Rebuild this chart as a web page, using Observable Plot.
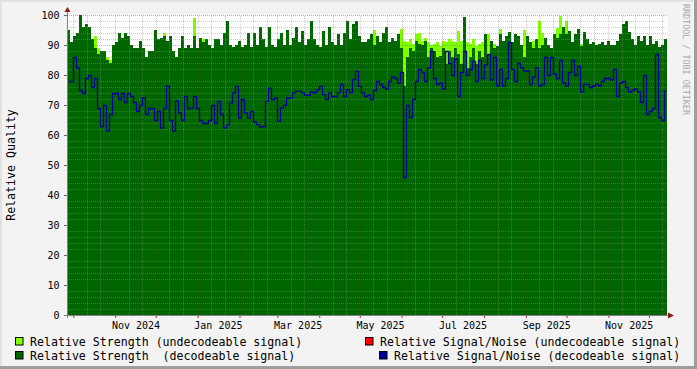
<!DOCTYPE html>
<html><head><meta charset="utf-8">
<script src="https://cdn.jsdelivr.net/npm/d3@7"></script>
<script src="https://cdn.jsdelivr.net/npm/@observablehq/plot@0.6"></script>
<style>
html,body{margin:0;padding:0;background:#f3f3f3;overflow:hidden;}
#chart{width:697px;height:369px;}
</style></head><body><div id="chart"></div>
<script>
const _ = null;
// Tick labels (bottom axis)
const monthLabels = ["Nov 2024","Jan 2025","Mar 2025","May 2025","Jul 2025","Sep 2025","Nov 2025"];
const yTicks = [0,10,20,30,40,50,60,70,80,90,100];

// Relative Strength (decodeable signal)
const strengthDecodeable = [
 95,91,93,94,100,96,97,96,92,89, 87,88,88,85,84,90,91,94,92.5,94, 93,90,89,89,91.5,89,86,88,88,95, 92,92.5,93,91.5,93,88,86,89,93,89, 90,89,93,89,92.5,91,92,90,89,92,
 92,90,94,98,90,89.5,90,91.5,89.5,90, 94,89.5,94,90,96,92,89.5,96,90,89.5, 92,94,90,95,90,92.5,96,91,94.8,90, 92,98,92,90,89.5,94.8,90,96,91,90, 93.6,90,94,98,92,97,98,93,91,91,
 92,93.6,90,93,91,94,96,91,92.5,91.5, 93.6,89,76.4,85.9,89,88,91.5,90.3,90,91.5, 85.9,89,88,85.9,86.4,89,83.6,88,85.9,89, 87,83.6,99.2,82.5,85.9,89,83.6,88,85.9,93.6, 87,91.5,89,89.7,93.6,91.5,93,94.2,90.9,93.6,
 93,90,86,93,91,89,92,89,90,92.5, 90,89,93.6,92.5,93.6,96,93.6,94.8,91,93.6, 95.3,89.7,94.2,92,90.3,91,90,90.3,90.9,90, 91.5,90,90,91.5,93.6,97,98,94.2,92,90, 93,91.5,93,90,93,90.3,91.5,89.5,90,92
];
// Relative Strength (undecodeable signal)
const strengthUndecodeable = [
 _,_,_,_,_,_,_,_,_,93, 89,_,_,86,85,_,_,_,_,_, _,_,_,_,_,_,_,_,_,_, _,_,94,_,_,_,_,_,_,_, _,_,99,_,_,92,_,_,_,_,
 _,_,_,_,_,_,_,_,_,_, _,_,_,_,_,_,_,_,_,_, _,_,_,_,_,_,_,_,_,_, _,_,_,_,_,_,_,_,_,_, _,_,_,_,_,_,_,_,_,_,
 _,_,95,_,_,_,_,_,_,_, _,95.3,91.5,90.9,92,90.3,93.6,94,91.5,92.5, 90.9,90,90.3,90.9,89.7,91.5,90.9,92,91.5,90.9, 94.8,91.5,_,90.9,90.3,92,89.7,90.3,90.9,_, 93.6,_,90.3,_,95.3,_,_,_,_,_,
 _,_,95,_,_,91.5,_,98,94,_, _,_,_,95.8,99.8,_,98,_,_,_, _,90.5,_,_,_,_,_,_,_,_, _,_,_,_,_,_,_,_,_,_, _,_,_,_,_,_,_,_,_,_
];
// Relative Signal/Noise (decodeable signal)
const snrDecodeable = [
 78,78,86,82.5,75,74,79,80,76,79, 69,63,70,61.5,67,74,74,72,74,71, 74,73,71,68,70,72.5,67,69,69,65, 68,62.5,69,76.5,65,61.5,71.5,67.5,65,73, 69,69,73,69,65,64,64,65,70,64,
 71.4,67,62.5,63.6,70.8,74.2,76.4,65.8,72,67.5, 65.8,68,64.5,63.6,62.8,63,71.4,75.8,72,72.5, 64.7,69.2,70,72.5,72.5,74.2,74.7,74.7,74.2,73.4, 73.4,74.5,74.2,75.3,76.4,73.6,72,74.2,73,73, 74.2,77,73,75.3,74.2,78.6,81.4,76.4,74.2,73,
 73.5,72,75,78,77,76,75.5,78,79.5,79, 77.5,81,46,70,66,72,78,82,81,78, 82.5,88,79,77,77.5,75.5,88,84,80,85.5, 73,81,88,80,82,84.7,78,85,79,83.5, 87,78.5,86,76.5,82,76.5,79,91,82,78,
 84,82.5,81.5,81.5,77,79.5,82.5,76.5,77,86, 80,86,80.5,79,85,77.5,76.5,81,85,80, 83,74.5,77,77,76,76.5,77,76.5,78,79, 79,78.5,82,73,77.5,78,76,74.5,75,75.5, 74.5,71,80,67,68,69,87,66,65,74.7
];
// Relative Signal/Noise (undecodeable signal): nothing visible
const snrUndecodeable = [];

const legendLabels = [
  "Relative Strength (undecodeable signal)",
  "Relative Strength  (decodeable signal)",
  "Relative Signal/Noise (undecodeable signal)",
  "Relative Signal/Noise (decodeable signal)"
];
const legendColors = ["#80ff00","#006600","#ff0000","#000099"];

const DAY = 864e5;
const start = Date.UTC(2024, 8, 26, 8);
const stepMs = 2.2202 * DAY;
const end = start + strengthDecodeable.length * stepMs;

const rows = strengthDecodeable.map((g, i) => ({
  t0: new Date(start + i * stepMs),
  t1: new Date(start + (i + 1) * stepMs),
  tm: new Date(start + (i + 0.5) * stepMs),
  g, l: strengthUndecodeable[i], b: snrDecodeable[i]
}));

const monthStarts = d3.utcMonth.range(new Date(start), new Date(end));
const minorDates = monthStarts.flatMap(m => [d3.utcDay.offset(m, 10), d3.utcDay.offset(m, 20)])
  .filter(d => d < end);
const labelDate = s => d3.utcDay.offset(d3.utcParse("%b %Y")(s), 15);
const minorY = d3.range(0, 101, 2).filter(v => v % 10 !== 0);

const FONT = "DejaVu Sans Mono";
const chart = Plot.plot({
  width: 697, height: 369,
  marginLeft: 67, marginRight: 30, marginTop: 15, marginBottom: 54,
  x: {type: "utc", domain: [new Date(start), new Date(end)], axis: null},
  y: {domain: [0, 100], axis: null},
  style: {background: "#f3f3f3", fontFamily: FONT, fontSize: "10px", color: "black", overflow: "visible"},
  marks: [
    Plot.frame({fill: "white", stroke: "none"}),
    Plot.rectY(rows.filter(d => d.l != null), {x1: "t0", x2: "t1", y1: 0, y2: "l", fill: "#80ff00", shapeRendering: "crispEdges"}),
    Plot.rectY(rows, {x1: "t0", x2: "t1", y1: 0, y2: "g", fill: "#006600", shapeRendering: "crispEdges"}),
    Plot.ruleX(minorDates, {y1: 0, y2: 100, stroke: "#8c8c8c", strokeOpacity: 0.45, strokeDasharray: "1,1", shapeRendering: "crispEdges"}),
    Plot.ruleY(minorY, {stroke: "#8c8c8c", strokeOpacity: 0.45, strokeDasharray: "1,1", shapeRendering: "crispEdges"}),
    Plot.ruleX(monthStarts, {y1: 0, y2: 100, stroke: "#821e1e", strokeOpacity: 0.25, strokeDasharray: "1,1", shapeRendering: "crispEdges"}),
    Plot.ruleY(yTicks, {stroke: "#821e1e", strokeOpacity: 0.35, strokeDasharray: "1,1", shapeRendering: "crispEdges"}),
    Plot.lineY(snrUndecodeable, {x: "t", y: "v", curve: "step", stroke: "#ff0000", strokeWidth: 1.3}),
    Plot.lineY(rows, {x: "tm", y: "b", curve: "step", stroke: "#000099", strokeWidth: 1.3}),
    Plot.axisY(yTicks, {tickSize: 3, tickPadding: 5, stroke: "#666", fill: "black", label: null, fontSize: 10}),
    Plot.axisX(monthStarts, {tickSize: 3, tickFormat: () => "", stroke: "#b03030", label: null}),
    Plot.text(monthLabels, {x: d => labelDate(d), text: d => d, frameAnchor: "bottom", lineAnchor: "top", dy: 6, fill: "black", fontSize: 10})
  ]
});
document.getElementById("chart").appendChild(chart);

const svg = d3.select(chart);
const sx = chart.scale("x"), sy = chart.scale("y");
const xa = sx.apply(new Date(start)), xb = sx.apply(new Date(end));
const y0 = sy.apply(0), yTop = sy.apply(100);

// axes lines and arrows
svg.append("line").attr("x1", xa + 0.5).attr("x2", xa + 0.5).attr("y1", y0 + 3).attr("y2", yTop - 3)
  .attr("stroke", "#808080");
svg.append("line").attr("x1", xa - 3).attr("x2", xb + 2).attr("y1", y0 + 0.5).attr("y2", y0 + 0.5)
  .attr("stroke", "#808080");
svg.append("path").attr("d", `M${xa - 2.5},${yTop - 3}L${xa + 3.5},${yTop - 3}L${xa + 0.5},${yTop - 8}Z`).attr("fill", "#8b1a1a");
svg.append("path").attr("d", `M${xb + 1},${y0 - 2.5}L${xb + 1},${y0 + 3.5}L${xb + 7},${y0 + 0.5}Z`).attr("fill", "#8b1a1a");

// y label
svg.append("text").attr("transform", `translate(14.5,165) rotate(-90)`).attr("text-anchor", "middle")
  .style("font-family", FONT).style("font-size", "11.6px").attr("fill", "black").text("Relative Quality");
// watermark
svg.append("text").attr("transform", `translate(683,4) rotate(90)`).attr("text-anchor", "start")
  .style("font-family", FONT).style("font-size", "8.4px").attr("fill", "#a8a8a8").text("RRDTOOL / TOBI OETIKER");

// legend
const legendPos = [
  {sx: 15.5, tx: 30, y: 337.5},
  {sx: 15.5, tx: 30, y: 351.5},
  {sx: 365.5, tx: 380, y: 337.5},
  {sx: 379.5, tx: 394, y: 351.5}
];
legendLabels.forEach((lab, i) => {
  const p = legendPos[i];
  svg.append("rect").attr("x", p.sx).attr("y", p.y).attr("width", 7.5).attr("height", 7.5)
    .attr("fill", legendColors[i]).attr("stroke", "black").attr("stroke-width", 1);
  svg.append("text").attr("x", p.tx).attr("y", p.y + 8.2).attr("text-anchor", "start")
    .style("white-space", "pre").attr("xml:space", "preserve")
    .style("font-family", FONT).style("font-size", "11.6px").attr("fill", "black").text(lab);
});

// frame shading
svg.append("rect").attr("x", 0).attr("y", 0).attr("width", 697).attr("height", 2).attr("fill", "#e2e2e2");
svg.append("rect").attr("x", 0).attr("y", 0).attr("width", 2).attr("height", 369).attr("fill", "#e2e2e2");
svg.append("rect").attr("x", 0).attr("y", 366).attr("width", 697).attr("height", 3).attr("fill", "#9e9e9e");
svg.append("rect").attr("x", 694).attr("y", 0).attr("width", 3).attr("height", 369).attr("fill", "#9e9e9e");
</script></body></html>
